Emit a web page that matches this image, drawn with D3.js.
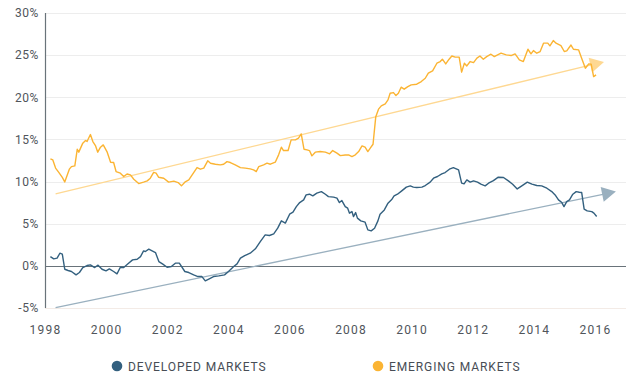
<!DOCTYPE html>
<html><head><meta charset="utf-8">
<script src="https://cdn.jsdelivr.net/npm/d3@7"></script>
<style>
html,body{margin:0;padding:0;background:#fff;}
svg{display:block;}
text{font-family:Roboto, "DejaVu Sans", sans-serif;}
</style></head>
<body>
<svg id="chart" width="636" height="379"></svg>
<script>
const yTicks = [-5, 0, 5, 10, 15, 20, 25, 30];
const xTicks = [1998, 2000, 2002, 2004, 2006, 2008, 2010, 2012, 2014, 2016];
const seriesNames = ["DEVELOPED MARKETS", "EMERGING MARKETS"];

const devYears = [1998.16,1998.27,1998.38,1998.47,1998.55,1998.63,1998.74,1998.85,1999.00,1999.11,1999.22,1999.36,1999.47,1999.61,1999.72,1999.85,1999.98,2000.09,2000.23,2000.34,2000.45,2000.56,2000.70,2000.85,2001.00,2001.11,2001.21,2001.27,2001.38,2001.49,2001.60,2001.71,2001.84,2001.98,2002.12,2002.25,2002.38,2002.56,2002.69,2002.85,2002.99,2003.12,2003.23,2003.36,2003.50,2003.67,2003.86,2003.99,2004.16,2004.27,2004.38,2004.52,2004.70,2004.87,2005.03,2005.19,2005.33,2005.47,2005.60,2005.72,2005.85,2005.99,2006.10,2006.21,2006.32,2006.45,2006.53,2006.64,2006.75,2006.88,2007.03,2007.16,2007.26,2007.43,2007.54,2007.62,2007.70,2007.81,2007.89,2007.95,2008.03,2008.08,2008.15,2008.21,2008.32,2008.46,2008.55,2008.66,2008.77,2008.88,2008.95,2009.09,2009.21,2009.34,2009.41,2009.52,2009.66,2009.81,2009.94,2010.04,2010.15,2010.32,2010.43,2010.59,2010.70,2010.83,2010.97,2011.08,2011.22,2011.35,2011.52,2011.62,2011.70,2011.79,2011.90,2012.01,2012.14,2012.25,2012.39,2012.50,2012.66,2012.82,2012.99,2013.15,2013.29,2013.44,2013.59,2013.77,2013.92,2014.08,2014.24,2014.41,2014.57,2014.68,2014.79,2014.90,2014.97,2015.06,2015.15,2015.26,2015.37,2015.47,2015.55,2015.63,2015.73,2015.88,2015.95,2016.04];
const devValues = [1.1,0.83,0.91,1.5,1.38,-0.4,-0.55,-0.67,-1.07,-0.79,-0.2,0.04,0.12,-0.2,0.08,-0.4,-0.59,-0.36,-0.67,-0.95,-0.16,-0.2,0.24,0.71,0.79,1.1,1.78,1.7,1.98,1.78,1.58,0.51,0.2,-0.16,-0.08,0.32,0.32,-0.67,-0.79,-1.07,-1.27,-1.27,-1.78,-1.54,-1.27,-1.19,-1.07,-0.67,-0.08,0.24,0.91,1.22,1.5,2.02,2.88,3.68,3.6,3.8,4.47,5.34,5.07,6.13,6.37,7.03,7.51,7.83,8.42,8.5,8.3,8.62,8.81,8.5,8.22,8.15,8.03,7.51,7.75,7.03,6.84,6.25,6.44,5.85,6.32,5.66,5.34,5.18,4.27,4.15,4.47,5.34,6.13,6.64,7.44,7.91,8.3,8.5,8.9,9.34,9.49,9.34,9.29,9.34,9.53,9.93,10.4,10.6,10.91,11.07,11.47,11.66,11.39,9.81,9.73,10.2,9.93,10.08,9.93,9.69,9.49,9.81,10.12,10.52,10.48,10.08,9.69,9.13,9.49,9.93,9.69,9.53,9.49,9.21,8.81,8.42,7.83,7.51,7.03,7.63,7.83,8.5,8.81,8.74,8.7,6.72,6.52,6.44,6.25,5.85];

const emYears = [1998.16,1998.24,1998.33,1998.44,1998.55,1998.63,1998.78,1998.85,1998.96,1999.04,1999.09,1999.22,1999.31,1999.36,1999.47,1999.55,1999.64,1999.71,1999.80,1999.89,2000.02,2000.13,2000.23,2000.31,2000.45,2000.56,2000.67,2000.78,2000.89,2001.05,2001.21,2001.33,2001.43,2001.54,2001.62,2001.70,2001.87,2002.03,2002.20,2002.34,2002.45,2002.56,2002.69,2002.85,2002.96,2003.07,2003.18,2003.31,2003.40,2003.56,2003.72,2003.83,2003.94,2004.05,2004.21,2004.38,2004.54,2004.70,2004.81,2004.90,2004.98,2005.14,2005.25,2005.36,2005.52,2005.63,2005.72,2005.79,2005.94,2006.04,2006.18,2006.28,2006.37,2006.46,2006.56,2006.64,2006.72,2006.83,2006.99,2007.16,2007.30,2007.40,2007.54,2007.65,2007.81,2007.92,2008.03,2008.14,2008.25,2008.36,2008.46,2008.55,2008.63,2008.72,2008.81,2008.90,2008.99,2009.12,2009.21,2009.28,2009.39,2009.47,2009.55,2009.64,2009.74,2009.86,2009.97,2010.15,2010.30,2010.43,2010.53,2010.67,2010.81,2010.92,2010.99,2011.10,2011.21,2011.30,2011.41,2011.54,2011.62,2011.71,2011.79,2011.90,2012.01,2012.12,2012.22,2012.33,2012.44,2012.58,2012.69,2012.75,2012.91,2013.08,2013.24,2013.37,2013.51,2013.64,2013.79,2013.89,2013.97,2014.08,2014.19,2014.30,2014.44,2014.51,2014.62,2014.71,2014.87,2014.98,2015.06,2015.20,2015.28,2015.45,2015.56,2015.67,2015.78,2015.86,2015.94,2016.02];
const emValues = [12.69,12.57,11.6,11.07,10.5,9.96,11.47,11.78,11.86,13.84,13.49,14.56,14.87,14.75,15.58,14.75,14.23,13.49,14.08,14.35,13.49,12.3,12.26,11.19,11.0,10.6,10.9,10.8,10.28,9.76,9.93,10.08,10.4,11.1,11.0,10.52,10.4,9.93,10.05,9.88,9.49,9.93,10.2,11.07,11.66,11.47,11.59,12.46,12.18,12.06,11.98,12.06,12.37,12.26,11.98,11.66,11.59,11.5,11.39,11.19,11.78,11.98,12.18,12.06,12.3,13.17,14.08,13.68,13.68,14.95,14.95,15.15,15.66,13.84,13.76,13.68,13.05,13.49,13.56,13.49,13.29,13.68,13.37,13.08,13.15,13.17,12.97,13.17,13.56,14.23,14.08,13.56,13.96,14.43,17.7,18.59,18.98,19.22,19.69,20.48,20.56,20.2,20.48,21.2,20.96,21.27,21.47,21.55,21.87,22.26,22.86,23.13,24.04,24.24,24.52,23.96,24.52,24.9,24.76,24.76,22.98,24.04,23.72,24.24,24.12,24.64,24.9,24.52,24.83,25.11,24.83,24.95,25.23,25.03,24.95,25.15,24.44,24.24,25.7,25.15,25.54,25.23,25.43,26.42,26.42,26.1,26.73,26.42,26.13,25.43,25.5,26.2,25.7,25.62,24.52,23.45,23.96,23.93,22.46,22.66];

// trend arrows (start, tip)
const devTrendYears = [1998.33, 2016.67];
const devTrendValues = [-4.95, 8.81];
const emTrendYears = [1998.33, 2016.28];
const emTrendValues = [8.54, 24.2];

const colors = {dev:"#33607f", em:"#fbb433", devTrend:"#9ab0bf", emTrend:"#fed892"};

const svg = d3.select("#chart");
const x = d3.scaleLinear().domain([1998, 2017]).range([45.5, 626]);
const y = d3.scaleLinear().domain([-5, 30]).range([308, 13]);

// gridlines
svg.append("g").selectAll("line").data(yTicks).join("line")
  .attr("x1", 45).attr("x2", 626)
  .attr("y1", d => Math.round(y(d)) + 0.5).attr("y2", d => Math.round(y(d)) + 0.5)
  .attr("stroke", d => d === 0 ? "#69737a" : (d === -5 ? "#f3ebe6" : "#ededed"))
  .attr("stroke-width", d => d === 0 ? 1.2 : 1);

// y axis line
svg.append("line").attr("x1", 45.5).attr("x2", 45.5)
  .attr("y1", y(30)).attr("y2", y(-5))
  .attr("stroke", "#69737a").attr("stroke-width", 1.2);

// y labels
svg.append("g").selectAll("text").data(yTicks).join("text")
  .attr("x", 39).attr("y", d => y(d)).attr("dy", "0.36em")
  .attr("text-anchor", "end").attr("font-size", 12).attr("fill", "#50555b")
  .attr("letter-spacing", 0.6)
  .text(d => d + "%");

// x labels
svg.append("g").selectAll("text").data(xTicks).join("text")
  .attr("x", d => x(d)).attr("y", 334)
  .attr("text-anchor", "middle").attr("font-size", 12).attr("fill", "#50555b")
  .attr("letter-spacing", 1.2)
  .text(d => d);

// trend arrows
function arrow(years, vals, color) {
  const p0 = [x(years[0]), y(vals[0])], p1 = [x(years[1]), y(vals[1])];
  const dx = p1[0]-p0[0], dy = p1[1]-p0[1], L = Math.hypot(dx, dy);
  const ux = dx/L, uy = dy/L, nx = -uy, ny = ux;
  const hl = 14, hw = 7.5;
  const b = [p1[0]-ux*hl, p1[1]-uy*hl];
  svg.append("line").attr("x1", p0[0]).attr("y1", p0[1]).attr("x2", b[0]+ux*2).attr("y2", b[1]+uy*2)
    .attr("stroke", color).attr("stroke-width", 1.3);
  svg.append("path")
    .attr("d", d3.line()([p1, [b[0]+nx*hw, b[1]+ny*hw], [b[0]-nx*hw, b[1]-ny*hw]]) + "Z")
    .attr("fill", color);
}
arrow(emTrendYears, emTrendValues, colors.emTrend);
arrow(devTrendYears, devTrendValues, colors.devTrend);

const line = d3.line().x(d => x(d[0])).y(d => y(d[1]));
svg.append("path").datum(d3.zip(emYears, emValues)).attr("d", line)
  .attr("fill", "none").attr("stroke", colors.em).attr("stroke-width", 1.4).attr("stroke-linejoin", "round");
svg.append("path").datum(d3.zip(devYears, devValues)).attr("d", line)
  .attr("fill", "none").attr("stroke", colors.dev).attr("stroke-width", 1.4).attr("stroke-linejoin", "round");

// legend
const legend = [{name: seriesNames[0], c: colors.dev, x: 117}, {name: seriesNames[1], c: colors.em, x: 378}];
const lg = svg.append("g").selectAll("g").data(legend).join("g");
lg.append("circle").attr("cx", d => d.x).attr("cy", 366).attr("r", 5.3).attr("fill", d => d.c);
lg.append("text").attr("x", d => d.x + 11).attr("y", 371)
  .attr("font-size", 12).attr("fill", "#474d55").attr("letter-spacing", 0.9)
  .text(d => d.name);
</script>
</body></html>
